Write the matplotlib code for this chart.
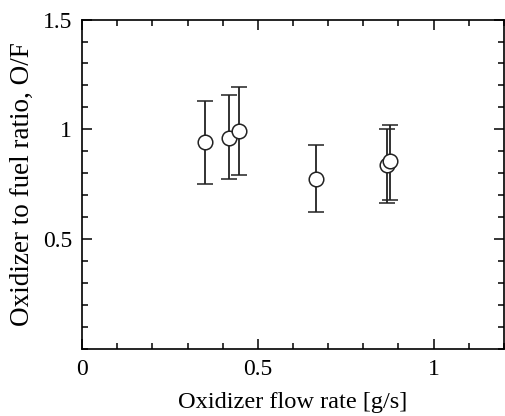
import matplotlib.pyplot as plt
from matplotlib.ticker import MultipleLocator

# oxidizer flow rate [g/s] and O/F with error bar limits
flow_rate = [0.351, 0.418, 0.447, 0.666, 0.868, 0.876]
of_ratio = [0.944, 0.963, 0.994, 0.772, 0.837, 0.857]
of_upper = [1.129, 1.156, 1.191, 0.929, 1.001, 1.021]
of_lower = [0.752, 0.772, 0.793, 0.622, 0.666, 0.678]

x_ticks = [0, 0.5, 1]
x_labels = ["0", "0.5", "1"]
y_ticks = [0.5, 1, 1.5]
y_labels = ["0.5", "1", "1.5"]

plt.rcParams['font.family'] = ['Liberation Serif', 'DejaVu Serif']
plt.rcParams['font.size'] = 17

fig = plt.figure(figsize=(5.05, 4.16), dpi=100)
ax = fig.add_axes([0.1624, 0.161, 0.8356, 0.792])

err_low = [v - lo for v, lo in zip(of_ratio, of_lower)]
err_high = [hi - v for v, hi in zip(of_ratio, of_upper)]
ax.errorbar(flow_rate, of_ratio, yerr=[err_low, err_high], fmt='o',
            color='black', ecolor='#222222', elinewidth=1.3, capsize=5.5,
            capthick=1.3, markersize=10.5, markerfacecolor='white',
            markeredgecolor='#222222', markeredgewidth=1.1)

ax.set_xlim(0, 1.2)
ax.set_ylim(0, 1.5)
ax.set_xticks(x_ticks)
ax.set_xticklabels(x_labels)
ax.set_yticks(y_ticks)
ax.set_yticklabels(y_labels)
ax.xaxis.set_minor_locator(MultipleLocator(0.1))
ax.yaxis.set_minor_locator(MultipleLocator(0.1))

ax.tick_params(which='both', direction='in', top=True, right=True, width=1.1)
ax.tick_params(which='major', length=7.5, pad=7)
ax.tick_params(which='minor', length=4)
for s in ax.spines.values():
    s.set_linewidth(1.2)

ax.set_xlabel("Oxidizer flow rate [g/s]", fontsize=17.6, labelpad=8.5)
ax.set_ylabel("Oxidizer to fuel ratio, O/F", fontsize=19.5, labelpad=6)

fig.savefig("out.png", dpi=100)
